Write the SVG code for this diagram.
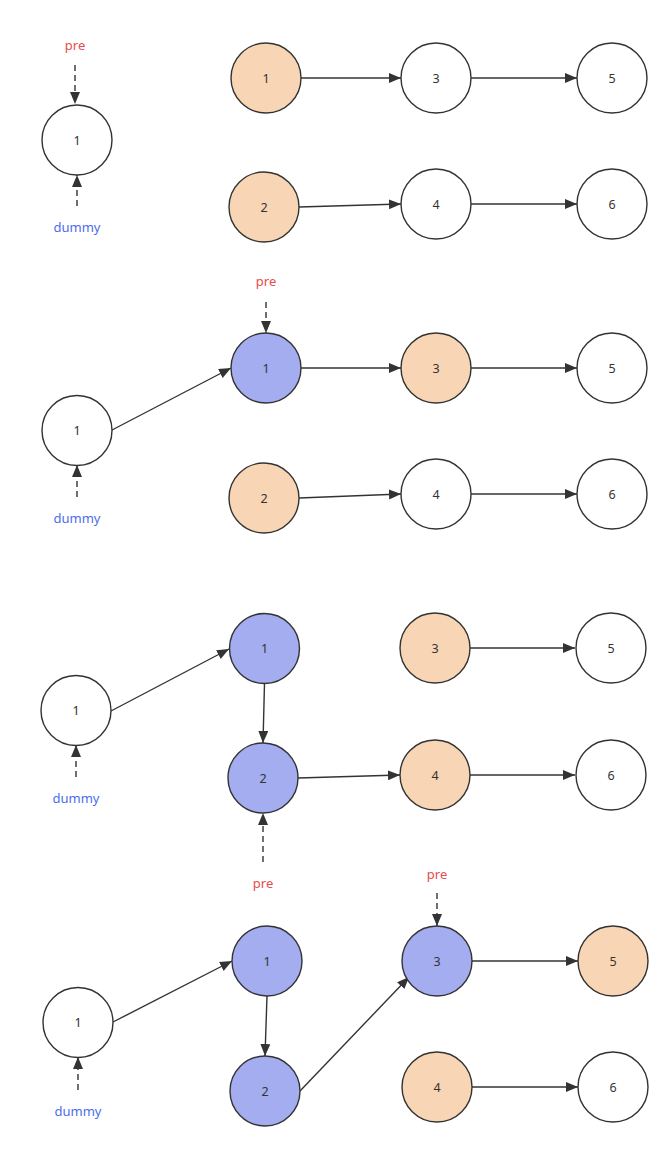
<svg xmlns="http://www.w3.org/2000/svg" width="672" height="1155" viewBox="0 0 672 1155">
<defs>
<marker id="ah" markerUnits="userSpaceOnUse" markerWidth="13" markerHeight="11" refX="12" refY="5" orient="auto">
<path d="M0,0 L12,5 L0,10 Z" fill="#333"/>
</marker>
<style>
.n circle{stroke:#333;stroke-width:1.4}
.w{fill:#fff}
.o{fill:#F8D5B4}
.b{fill:#A3ADF0}
.n text{font-family:"Noto Sans","Liberation Sans",sans-serif;font-size:12.5px;fill:#333;text-anchor:middle}
.e line{stroke:#333;stroke-width:1.4;fill:none;marker-end:url(#ah)}
.e line.d{stroke-dasharray:6 4}
.lbl{font-family:"Noto Sans","Liberation Sans",sans-serif;font-size:13px;text-anchor:middle}
.pre{fill:#E84C4C}
.dum{fill:#4A6EEA}
</style>
</defs>
<rect width="672" height="1155" fill="#fff"/>
<g id="connectors" class="e">
<line class="d" x1="75" y1="65" x2="75" y2="104"/>
<line class="d" x1="77" y1="206" x2="77" y2="175"/>
<line x1="301" y1="78" x2="401" y2="78"/>
<line x1="471" y1="78" x2="577" y2="78"/>
<line x1="299" y1="207" x2="401" y2="204"/>
<line x1="471" y1="204" x2="577" y2="204"/>

<line class="d" x1="266" y1="302" x2="266" y2="333"/>
<line class="d" x1="77" y1="497" x2="77" y2="465"/>
<line x1="112" y1="430" x2="231" y2="368"/>
<line x1="301" y1="368" x2="401" y2="368"/>
<line x1="471" y1="368" x2="577" y2="368"/>
<line x1="299" y1="498" x2="401" y2="494"/>
<line x1="471" y1="494" x2="577" y2="494"/>

<line class="d" x1="76" y1="777" x2="76" y2="745"/>
<line x1="111" y1="711" x2="229" y2="649"/>
<line x1="264.5" y1="683" x2="263" y2="743"/>
<line x1="298" y1="778" x2="400" y2="775"/>
<line class="d" x1="263" y1="862" x2="263" y2="813"/>
<line x1="470" y1="648" x2="575" y2="648"/>
<line x1="470" y1="775" x2="575" y2="775"/>

<line class="d" x1="78" y1="1090" x2="78" y2="1057"/>
<line x1="113" y1="1022" x2="232" y2="961"/>
<line x1="267" y1="996" x2="265" y2="1056"/>
<line x1="300" y1="1091" x2="409" y2="977"/>
<line class="d" x1="437" y1="893" x2="437" y2="926"/>
<line x1="472" y1="961" x2="578" y2="961"/>
<line x1="472" y1="1087" x2="578" y2="1087"/>
</g>

<g id="labels">
<text class="lbl pre" x="75" y="50">pre</text>
<text class="lbl dum" x="77" y="232">dummy</text>
<text class="lbl pre" x="266" y="286">pre</text>
<text class="lbl dum" x="77" y="523">dummy</text>
<text class="lbl dum" x="76" y="803">dummy</text>
<text class="lbl pre" x="263" y="888">pre</text>
<text class="lbl pre" x="437" y="879">pre</text>
<text class="lbl dum" x="78" y="1116">dummy</text>
</g>

<g id="p1-dummy" class="n"><circle class="w" cx="77" cy="140" r="35"/><text x="77" y="144.5">1</text></g>
<g id="p1-n1" class="n"><circle class="o" cx="266" cy="78" r="35"/><text x="266" y="82.5">1</text></g>
<g id="p1-n3" class="n"><circle class="w" cx="436" cy="78" r="35"/><text x="436" y="82.5">3</text></g>
<g id="p1-n5" class="n"><circle class="w" cx="612" cy="78" r="35"/><text x="612" y="82.5">5</text></g>
<g id="p1-n2" class="n"><circle class="o" cx="264" cy="207" r="35"/><text x="264" y="211.5">2</text></g>
<g id="p1-n4" class="n"><circle class="w" cx="436" cy="204" r="35"/><text x="436" y="208.5">4</text></g>
<g id="p1-n6" class="n"><circle class="w" cx="612" cy="204" r="35"/><text x="612" y="208.5">6</text></g>

<g id="p2-dummy" class="n"><circle class="w" cx="77" cy="430.5" r="35"/><text x="77" y="435">1</text></g>
<g id="p2-n1" class="n"><circle class="b" cx="266" cy="368" r="35"/><text x="266" y="372.5">1</text></g>
<g id="p2-n3" class="n"><circle class="o" cx="436" cy="368" r="35"/><text x="436" y="372.5">3</text></g>
<g id="p2-n5" class="n"><circle class="w" cx="612" cy="368" r="35"/><text x="612" y="372.5">5</text></g>
<g id="p2-n2" class="n"><circle class="o" cx="264" cy="498" r="35"/><text x="264" y="502.5">2</text></g>
<g id="p2-n4" class="n"><circle class="w" cx="436" cy="494" r="35"/><text x="436" y="498.5">4</text></g>
<g id="p2-n6" class="n"><circle class="w" cx="612" cy="494" r="35"/><text x="612" y="498.5">6</text></g>

<g id="p3-dummy" class="n"><circle class="w" cx="76" cy="710.5" r="35"/><text x="76" y="715">1</text></g>
<g id="p3-n1" class="n"><circle class="b" cx="264.5" cy="648.5" r="35"/><text x="264.5" y="653">1</text></g>
<g id="p3-n3" class="n"><circle class="o" cx="435" cy="648" r="35"/><text x="435" y="652.5">3</text></g>
<g id="p3-n5" class="n"><circle class="w" cx="611" cy="648" r="35"/><text x="611" y="652.5">5</text></g>
<g id="p3-n2" class="n"><circle class="b" cx="263" cy="778" r="35"/><text x="263" y="782.5">2</text></g>
<g id="p3-n4" class="n"><circle class="o" cx="435" cy="775" r="35"/><text x="435" y="779.5">4</text></g>
<g id="p3-n6" class="n"><circle class="w" cx="611" cy="775" r="35"/><text x="611" y="779.5">6</text></g>

<g id="p4-dummy" class="n"><circle class="w" cx="78" cy="1022.5" r="35"/><text x="78" y="1027">1</text></g>
<g id="p4-n1" class="n"><circle class="b" cx="267" cy="961" r="35"/><text x="267" y="965.5">1</text></g>
<g id="p4-n3" class="n"><circle class="b" cx="437" cy="961" r="35"/><text x="437" y="965.5">3</text></g>
<g id="p4-n5" class="n"><circle class="o" cx="613" cy="961" r="35"/><text x="613" y="965.5">5</text></g>
<g id="p4-n2" class="n"><circle class="b" cx="265" cy="1091" r="35"/><text x="265" y="1095.5">2</text></g>
<g id="p4-n4" class="n"><circle class="o" cx="437" cy="1087" r="35"/><text x="437" y="1091.5">4</text></g>
<g id="p4-n6" class="n"><circle class="w" cx="613" cy="1087" r="35"/><text x="613" y="1091.5">6</text></g>
</svg>
